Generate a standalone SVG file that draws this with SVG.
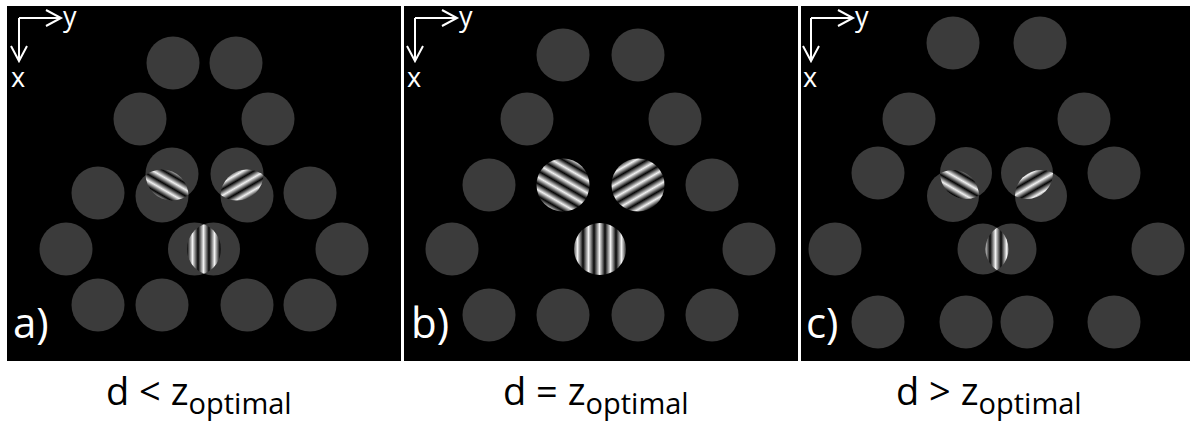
<svg xmlns="http://www.w3.org/2000/svg" width="1190" height="434" viewBox="0 0 1190 434">
<style>
.bg{fill:#000}
.c{fill:#3b3b3b}
.ax{stroke:#fff;stroke-width:2;fill:none}
.axt{fill:#fff;font-family:"Open Sans","DejaVu Sans",sans-serif;font-size:27px}
.pl{fill:#fff;font-family:"Open Sans","DejaVu Sans",sans-serif;font-size:42px}
.cap{fill:#000;font-family:"Open Sans","DejaVu Sans",sans-serif;font-size:38px}
.sub{font-size:29px}
</style>
<defs>
<linearGradient id="gD" gradientUnits="userSpaceOnUse" x1="0" y1="0" x2="11" y2="0" spreadMethod="repeat" gradientTransform="rotate(-60)">
<stop offset="0" stop-color="#050505"/><stop offset="0.5" stop-color="#f2f2f2"/><stop offset="1" stop-color="#050505"/>
</linearGradient>
<linearGradient id="gU" gradientUnits="userSpaceOnUse" x1="0" y1="0" x2="11" y2="0" spreadMethod="repeat" gradientTransform="rotate(60)">
<stop offset="0" stop-color="#050505"/><stop offset="0.5" stop-color="#f2f2f2"/><stop offset="1" stop-color="#050505"/>
</linearGradient>
<linearGradient id="gV" gradientUnits="userSpaceOnUse" x1="0" y1="0" x2="11" y2="0" spreadMethod="repeat">
<stop offset="0" stop-color="#050505"/><stop offset="0.5" stop-color="#f2f2f2"/><stop offset="1" stop-color="#050505"/>
</linearGradient>
<clipPath id="ka1"><circle cx="172" cy="174" r="26.5"/></clipPath>
<clipPath id="ka2"><circle cx="237" cy="174" r="26.5"/></clipPath>
<clipPath id="ka3"><circle cx="194.5" cy="249" r="26.5"/></clipPath>
<clipPath id="kc1"><circle cx="966" cy="173" r="26"/></clipPath>
<clipPath id="kc2"><circle cx="1027" cy="173" r="26"/></clipPath>
<clipPath id="kc3"><circle cx="983" cy="249" r="25.5"/></clipPath>
<g id="axes">
<path class="ax" d="M19 18H61M46 10L61 18L46 26M19 18V61M11 46L19 61L27 46"/>
<text class="axt" x="63" y="26">y</text>
<text class="axt" x="11" y="87">x</text>
</g>
</defs>
<rect width="1190" height="434" fill="#fff"/>

<g id="panel-a">
<rect class="bg" x="7" y="6" width="394" height="355"/>
<use href="#axes"/>
<circle class="c" cx="173" cy="63" r="26.5"/><circle class="c" cx="236" cy="63" r="26.5"/>
<circle class="c" cx="140" cy="119" r="26.5"/><circle class="c" cx="268" cy="119" r="26.5"/>
<circle class="c" cx="98" cy="193" r="26.5"/><circle class="c" cx="310" cy="193" r="26.5"/>
<circle class="c" cx="172" cy="174" r="26.5"/><circle class="c" cx="162" cy="196" r="26.5"/>
<circle class="c" cx="237" cy="174" r="26.5"/><circle class="c" cx="247" cy="196" r="26.5"/>
<g clip-path="url(#ka1)"><circle cx="162" cy="196" r="26.5" fill="url(#gD)"/></g>
<g clip-path="url(#ka2)"><circle cx="247" cy="196" r="26.5" fill="url(#gU)"/></g>
<circle class="c" cx="66" cy="249" r="26.5"/><circle class="c" cx="342" cy="249" r="26.5"/>
<circle class="c" cx="194.5" cy="249" r="26.5"/><circle class="c" cx="213.5" cy="249" r="26.5"/>
<g clip-path="url(#ka3)"><circle cx="213.5" cy="249" r="26.5" fill="url(#gV)"/></g>
<circle class="c" cx="98" cy="305" r="26.5"/><circle class="c" cx="162" cy="305" r="26.5"/>
<circle class="c" cx="247" cy="305" r="26.5"/><circle class="c" cx="310" cy="305" r="26.5"/>
<text class="pl" x="13" y="338">a)</text>
</g>

<g id="panel-b">
<rect class="bg" x="404" y="6" width="394" height="355"/>
<use href="#axes" x="396"/>
<circle class="c" cx="563" cy="55" r="26.5"/><circle class="c" cx="638" cy="55" r="26.5"/>
<circle class="c" cx="527" cy="119" r="26.5"/><circle class="c" cx="675" cy="119" r="26.5"/>
<circle class="c" cx="489" cy="185" r="26.5"/><circle class="c" cx="712" cy="185" r="26.5"/>
<circle cx="563" cy="185" r="26.5" fill="url(#gD)"/>
<circle cx="638" cy="185" r="26.5" fill="url(#gU)"/>
<circle class="c" cx="452" cy="249" r="26.5"/><circle class="c" cx="749" cy="249" r="26.5"/>
<circle cx="600" cy="249" r="26" fill="url(#gV)"/>
<circle class="c" cx="489" cy="315" r="26.5"/><circle class="c" cx="563" cy="315" r="26.5"/>
<circle class="c" cx="638" cy="315" r="26.5"/><circle class="c" cx="712" cy="315" r="26.5"/>
<text class="pl" x="411" y="338">b)</text>
</g>

<g id="panel-c">
<rect class="bg" x="801" y="6" width="389" height="355"/>
<use href="#axes" x="792"/>
<circle class="c" cx="953" cy="43" r="26.5"/><circle class="c" cx="1040" cy="43" r="26.5"/>
<circle class="c" cx="909" cy="119" r="26.5"/><circle class="c" cx="1084" cy="119" r="26.5"/>
<circle class="c" cx="878" cy="173" r="26.5"/><circle class="c" cx="1114" cy="173" r="26.5"/>
<circle class="c" cx="966" cy="173" r="26"/><circle class="c" cx="953" cy="196" r="26"/>
<circle class="c" cx="1027" cy="173" r="26"/><circle class="c" cx="1041" cy="196" r="26"/>
<g clip-path="url(#kc1)"><circle cx="953" cy="196" r="26" fill="url(#gD)"/></g>
<g clip-path="url(#kc2)"><circle cx="1041" cy="196" r="26" fill="url(#gU)"/></g>
<circle class="c" cx="835" cy="249" r="26.5"/><circle class="c" cx="1158" cy="249" r="26.5"/>
<circle class="c" cx="983" cy="249" r="25.5"/><circle class="c" cx="1011" cy="249" r="25.5"/>
<g clip-path="url(#kc3)"><circle cx="1011" cy="249" r="25.5" fill="url(#gV)"/></g>
<circle class="c" cx="878" cy="322" r="26.5"/><circle class="c" cx="966" cy="322" r="26.5"/>
<circle class="c" cx="1027" cy="322" r="26.5"/><circle class="c" cx="1114" cy="322" r="26.5"/>
<text class="pl" x="806" y="338">c)</text>
</g>

<g id="captions">
<text class="cap" x="106" y="405">d &lt; z<tspan class="sub" dy="9">optimal</tspan></text>
<text class="cap" x="503" y="405">d = z<tspan class="sub" dy="9">optimal</tspan></text>
<text class="cap" x="896" y="405">d &gt; z<tspan class="sub" dy="9">optimal</tspan></text>
</g>
</svg>
